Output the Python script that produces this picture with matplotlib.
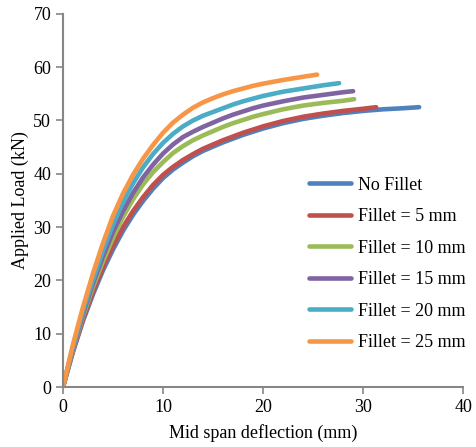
import matplotlib
matplotlib.use("Agg")
import matplotlib.pyplot as plt

# mid span deflection (mm) / applied load (kN)
no_fillet_x = [0, 1, 2, 3, 4, 5, 6, 7, 8, 9, 10, 11, 12, 13, 14, 15, 16, 17, 18, 19, 20,
               22, 24, 26, 28, 30, 32, 34, 35.6]
no_fillet_y = [0, 6.6, 12.4, 17.4, 21.9, 25.8, 29.3, 32.3, 34.9, 37.2, 39.2, 40.8, 42.1, 43.3,
               44.3, 45.1, 45.9, 46.6, 47.3, 47.9, 48.5, 49.5, 50.3, 50.9, 51.4, 51.8, 52.1, 52.3, 52.5]

fillet5_x = [0, 1, 2, 3, 4, 5, 6, 7, 8, 9, 10, 11, 12, 13, 14, 15, 16, 17, 18, 19, 20,
             22, 24, 26, 28, 30, 31.3]
fillet5_y = [0, 6.8, 12.7, 17.9, 22.5, 26.5, 30.0, 33.0, 35.6, 37.9, 39.8, 41.3, 42.6, 43.7,
             44.7, 45.5, 46.3, 47.0, 47.7, 48.3, 48.9, 49.9, 50.7, 51.3, 51.8, 52.2, 52.5]

fillet10_x = [0, 1, 2, 3, 4, 5, 6, 7, 8, 9, 10, 11, 12, 13, 14, 15, 16, 17, 18, 19, 20,
              22, 24, 26, 28, 29.1]
fillet10_y = [0, 7.1, 13.3, 18.8, 23.6, 28.0, 31.9, 35.2, 38.0, 40.3, 42.2, 43.9, 45.2, 46.3,
              47.2, 48.0, 48.8, 49.5, 50.1, 50.7, 51.2, 52.1, 52.8, 53.3, 53.7, 54.0]

fillet15_x = [0, 1, 2, 3, 4, 5, 6, 7, 8, 9, 10, 11, 12, 13, 14, 15, 16, 17, 18, 19, 20,
              22, 24, 26, 28, 29]
fillet15_y = [0, 7.3, 13.7, 19.4, 24.5, 29.1, 33.0, 36.4, 39.3, 41.7, 43.8, 45.5, 46.9, 47.9,
              48.8, 49.6, 50.4, 51.1, 51.7, 52.3, 52.8, 53.6, 54.3, 54.8, 55.3, 55.5]

fillet20_x = [0, 1, 2, 3, 4, 5, 6, 7, 8, 9, 10, 11, 12, 13, 14, 15, 16, 17, 18, 19, 20,
              22, 24, 26, 27.6]
fillet20_y = [0, 7.6, 14.2, 20.1, 25.6, 30.5, 34.7, 38.2, 41.2, 43.7, 45.8, 47.5, 48.9, 50.0,
              50.9, 51.6, 52.3, 53.0, 53.6, 54.1, 54.6, 55.4, 56.0, 56.6, 57.0]

fillet25_x = [0, 1, 2, 3, 4, 5, 6, 7, 8, 9, 10, 11, 12, 13, 14, 15, 16, 17, 18, 19, 20,
              22, 24, 25.4]
fillet25_y = [0, 8.0, 15.0, 21.3, 27.0, 32.1, 36.3, 39.8, 42.8, 45.4, 47.7, 49.6, 51.1, 52.4,
              53.4, 54.2, 54.9, 55.5, 56.0, 56.5, 56.9, 57.6, 58.2, 58.6]

series = [
    ("No Fillet", no_fillet_x, no_fillet_y, "#4F81BD"),
    ("Fillet = 5 mm", fillet5_x, fillet5_y, "#C0504D"),
    ("Fillet = 10 mm", fillet10_x, fillet10_y, "#9BBB59"),
    ("Fillet = 15 mm", fillet15_x, fillet15_y, "#8064A2"),
    ("Fillet = 20 mm", fillet20_x, fillet20_y, "#4BACC6"),
    ("Fillet = 25 mm", fillet25_x, fillet25_y, "#F79646"),
]

plt.rcParams["font.family"] = ["Liberation Serif", "DejaVu Serif"]
plt.rcParams["font.size"] = 12

fig = plt.figure(figsize=(4.77, 4.47), dpi=100)
ax = fig.add_axes([0.132, 0.134, 0.839, 0.835])

for label, xs, ys, color in series:
    ax.plot(xs, ys, color=color, lw=3.3, label=label,
            solid_capstyle="round", solid_joinstyle="round")

ax.set_xlim(0, 40)
ax.set_ylim(0, 70)
ax.set_xticks([0, 10, 20, 30, 40])
ax.set_yticks(range(0, 71, 10))

for side in ["top", "right"]:
    ax.spines[side].set_visible(False)
for side in ["left", "bottom"]:
    ax.spines[side].set_color("#868686")
    ax.spines[side].set_linewidth(1.5)
ax.tick_params(direction="out", length=5, width=1.2, color="#868686", labelsize=13)

ax.set_xlabel("Mid span deflection (mm)", fontsize=13, labelpad=6)
ax.set_ylabel("Applied Load (kN)", fontsize=13, labelpad=3)

ax.legend(loc="upper left", bbox_to_anchor=(0.575, 0.607), frameon=False,
          handlelength=2.3, labelspacing=0.8, fontsize=13, handletextpad=0.4)

fig.savefig("out.png", dpi=100)
